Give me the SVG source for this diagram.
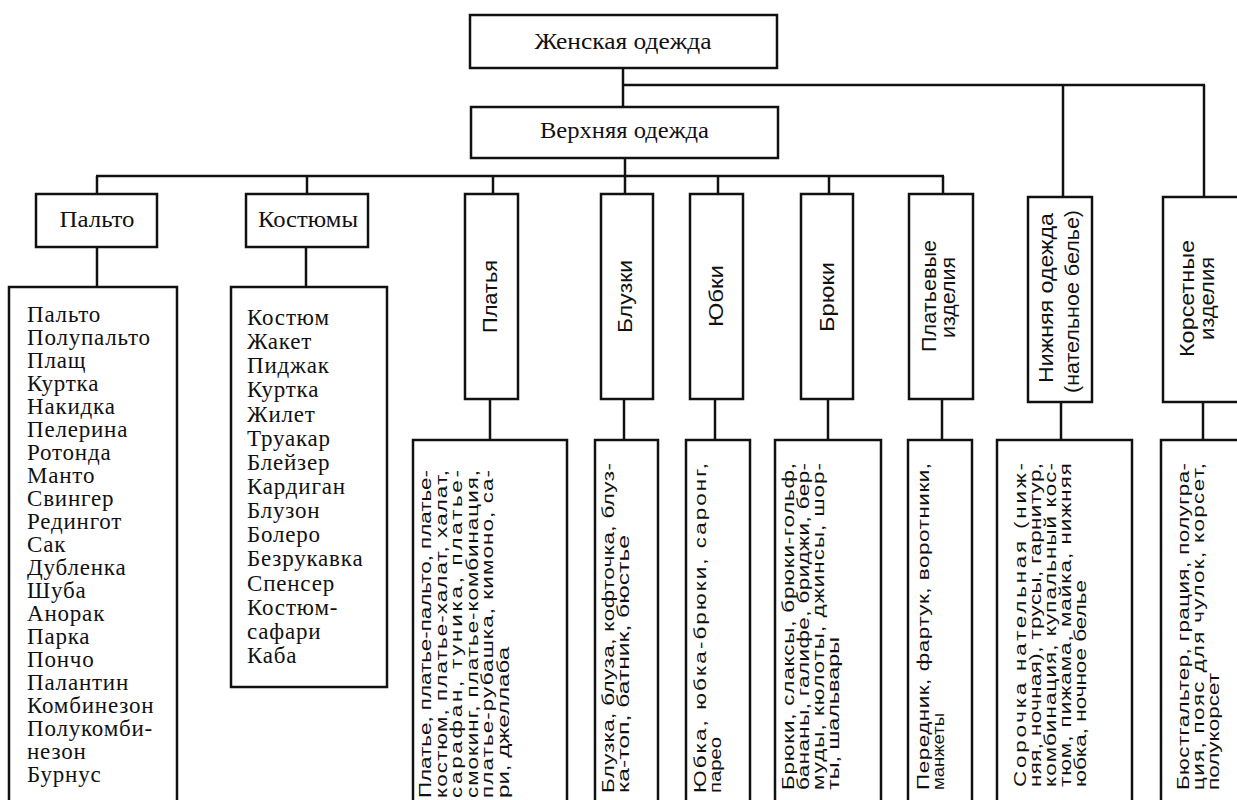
<svg xmlns="http://www.w3.org/2000/svg" width="1237" height="800" viewBox="0 0 1237 800">
<style>
.box{fill:#fff;stroke:#111;stroke-width:2.5}
.ln{stroke:#111;stroke-width:2.5;fill:none}
.serif{font-family:"Liberation Serif","Times New Roman",serif;font-size:23px;fill:#111;letter-spacing:0.8px}
.lbl{font-family:"Liberation Serif","Times New Roman",serif;font-size:23px;fill:#111;text-anchor:middle}
.vl{font-family:"Liberation Sans",Arial,sans-serif;font-size:20px;fill:#111;text-anchor:middle}
.vt{font-family:"Liberation Sans",Arial,sans-serif;font-size:16px;fill:#111}
</style>
<rect x="0" y="0" width="1237" height="800" fill="#fff"/>
<g id="connectors">
<line class="ln" x1="623" y1="68" x2="623" y2="107"/>
<line class="ln" x1="622" y1="85" x2="1205" y2="85"/>
<line class="ln" x1="1063" y1="85" x2="1063" y2="197"/>
<line class="ln" x1="1204" y1="85" x2="1204" y2="197"/>
<line class="ln" x1="625" y1="158" x2="625" y2="194"/>
<line class="ln" x1="96" y1="176" x2="944" y2="176"/>
<line class="ln" x1="97" y1="176" x2="97" y2="194"/>
<line class="ln" x1="307" y1="176" x2="307" y2="194"/>
<line class="ln" x1="493" y1="176" x2="493" y2="194"/>
<line class="ln" x1="718" y1="176" x2="718" y2="194"/>
<line class="ln" x1="829" y1="176" x2="829" y2="194"/>
<line class="ln" x1="943" y1="176" x2="943" y2="194"/>
<line class="ln" x1="97" y1="247" x2="97" y2="287"/>
<line class="ln" x1="306" y1="247" x2="306" y2="287"/>
<line class="ln" x1="490" y1="399" x2="490" y2="440"/>
<line class="ln" x1="624" y1="399" x2="624" y2="440"/>
<line class="ln" x1="715" y1="399" x2="715" y2="440"/>
<line class="ln" x1="828" y1="399" x2="828" y2="440"/>
<line class="ln" x1="942" y1="399" x2="942" y2="440"/>
<line class="ln" x1="1061" y1="402" x2="1061" y2="440"/>
<line class="ln" x1="1203" y1="402" x2="1203" y2="440"/>
</g>
<g id="n-zhenskaya">
<rect class="box" x="470" y="15" width="307" height="53"/>
<text class="lbl" x="623" y="49" textLength="177" lengthAdjust="spacingAndGlyphs">Женская одежда</text>
</g>
<g id="n-verkhnyaya">
<rect class="box" x="471" y="107" width="307" height="51"/>
<text class="lbl" x="624.5" y="138" textLength="169" lengthAdjust="spacingAndGlyphs">Верхняя одежда</text>
</g>
<g id="n-palto">
<rect class="box" x="36" y="194" width="121" height="53"/>
<text class="lbl" x="97" y="227" textLength="75" lengthAdjust="spacingAndGlyphs">Пальто</text>
</g>
<g id="n-kostyumy">
<rect class="box" x="246" y="194" width="122" height="53"/>
<text class="lbl" x="308" y="227" textLength="100" lengthAdjust="spacingAndGlyphs">Костюмы</text>
</g>
<g id="n-platya">
<rect class="box" x="465" y="194" width="53" height="205"/>
<text class="vl" transform="translate(497,296.5) rotate(-90)" textLength="73" lengthAdjust="spacingAndGlyphs">Платья</text>
</g>
<g id="n-bluzki">
<rect class="box" x="601" y="194" width="52" height="205"/>
<text class="vl" transform="translate(632,296.5) rotate(-90)" textLength="73" lengthAdjust="spacingAndGlyphs">Блузки</text>
</g>
<g id="n-yubki">
<rect class="box" x="690" y="194" width="53" height="205"/>
<text class="vl" transform="translate(723,296) rotate(-90)" textLength="62" lengthAdjust="spacingAndGlyphs">Юбки</text>
</g>
<g id="n-bryuki">
<rect class="box" x="801" y="194" width="52" height="205"/>
<text class="vl" transform="translate(834,297) rotate(-90)" textLength="70" lengthAdjust="spacingAndGlyphs">Брюки</text>
</g>
<g id="n-platevye">
<rect class="box" x="909" y="194" width="64" height="205"/>
<text class="vl" transform="translate(936,296) rotate(-90)" textLength="112" lengthAdjust="spacingAndGlyphs">Платьевые</text>
<text class="vl" transform="translate(955,297.5) rotate(-90)" textLength="81" lengthAdjust="spacingAndGlyphs">изделия</text>
</g>
<g id="n-nizhnyaya">
<rect class="box" x="1028" y="197" width="64" height="205"/>
<text class="vl" transform="translate(1053,298) rotate(-90)" textLength="170" lengthAdjust="spacingAndGlyphs">Нижняя одежда</text>
<text class="vl" transform="translate(1079,301.5) rotate(-90)" textLength="183" lengthAdjust="spacingAndGlyphs">(нательное белье)</text>
</g>
<g id="n-korsetnye">
<rect class="box" x="1163" y="197" width="82" height="205"/>
<text class="vl" transform="translate(1194,298.5) rotate(-90)" textLength="117" lengthAdjust="spacingAndGlyphs">Корсетные</text>
<text class="vl" transform="translate(1214,298.5) rotate(-90)" textLength="83" lengthAdjust="spacingAndGlyphs">изделия</text>
</g>
<g id="list-palto">
<rect class="box" x="9" y="287" width="168" height="530"/>
<text class="serif" x="27" y="322">Пальто</text>
<text class="serif" x="27" y="345">Полупальто</text>
<text class="serif" x="27" y="368">Плащ</text>
<text class="serif" x="27" y="391">Куртка</text>
<text class="serif" x="27" y="414">Накидка</text>
<text class="serif" x="27" y="437">Пелерина</text>
<text class="serif" x="27" y="460">Ротонда</text>
<text class="serif" x="27" y="483">Манто</text>
<text class="serif" x="27" y="506">Свингер</text>
<text class="serif" x="27" y="529">Редингот</text>
<text class="serif" x="27" y="552">Сак</text>
<text class="serif" x="27" y="575">Дубленка</text>
<text class="serif" x="27" y="598">Шуба</text>
<text class="serif" x="27" y="621">Анорак</text>
<text class="serif" x="27" y="644">Парка</text>
<text class="serif" x="27" y="667">Пончо</text>
<text class="serif" x="27" y="690">Палантин</text>
<text class="serif" x="27" y="713">Комбинезон</text>
<text class="serif" x="27" y="736">Полукомби-</text>
<text class="serif" x="27" y="759">незон</text>
<text class="serif" x="27" y="782">Бурнус</text>
</g>
<g id="list-kostyumy">
<rect class="box" x="231" y="287" width="156" height="400"/>
<text class="serif" x="247" y="325">Костюм</text>
<text class="serif" x="247" y="349">Жакет</text>
<text class="serif" x="247" y="373">Пиджак</text>
<text class="serif" x="247" y="397">Куртка</text>
<text class="serif" x="247" y="422">Жилет</text>
<text class="serif" x="247" y="446">Труакар</text>
<text class="serif" x="247" y="470">Блейзер</text>
<text class="serif" x="247" y="494">Кардиган</text>
<text class="serif" x="247" y="518">Блузон</text>
<text class="serif" x="247" y="542">Болеро</text>
<text class="serif" x="247" y="566">Безрукавка</text>
<text class="serif" x="247" y="591">Спенсер</text>
<text class="serif" x="247" y="615">Костюм-</text>
<text class="serif" x="247" y="639">сафари</text>
<text class="serif" x="247" y="663">Каба</text>
</g>
<g id="list-platya">
<rect class="box" x="413" y="440" width="154" height="380"/>
<text class="vt" transform="translate(431,798) rotate(-90) scale(1.4,1)" textLength="234.3" lengthAdjust="spacing">Платье, платье-пальто, платье-</text>
<text class="vt" transform="translate(446.5,798) rotate(-90) scale(1.4,1)" textLength="234.3" lengthAdjust="spacing">костюм, платье-халат, халат,</text>
<text class="vt" transform="translate(462,798) rotate(-90) scale(1.4,1)" textLength="234.3" lengthAdjust="spacing">сарафан, туника, платье-</text>
<text class="vt" transform="translate(477.5,798) rotate(-90) scale(1.4,1)" textLength="234.3" lengthAdjust="spacing">смокинг, платье-комбинация,</text>
<text class="vt" transform="translate(493,798) rotate(-90) scale(1.4,1)" textLength="234.3" lengthAdjust="spacing">платье-рубашка, кимоно, са-</text>
<text class="vt" transform="translate(508.5,798) rotate(-90) scale(1.4,1)" textLength="107.9" lengthAdjust="spacingAndGlyphs">ри, джеллаба</text>
</g>
<g id="list-bluzki">
<rect class="box" x="595" y="440" width="63" height="380"/>
<text class="vt" transform="translate(614,793) rotate(-90) scale(1.4,1)" textLength="235.7" lengthAdjust="spacing">Блузка, блуза, кофточка, блуз-</text>
<text class="vt" transform="translate(629,793) rotate(-90) scale(1.4,1)" textLength="184.3" lengthAdjust="spacingAndGlyphs">ка-топ, батник, бюстье</text>
</g>
<g id="list-yubki">
<rect class="box" x="686" y="440" width="64" height="380"/>
<text class="vt" transform="translate(706,793) rotate(-90) scale(1.4,1)" textLength="235.7" lengthAdjust="spacing">Юбка, юбка-брюки, саронг,</text>
<text class="vt" transform="translate(721,793) rotate(-90) scale(1.4,1)" textLength="40" lengthAdjust="spacingAndGlyphs">парео</text>
</g>
<g id="list-bryuki">
<rect class="box" x="775" y="440" width="106" height="380"/>
<text class="vt" transform="translate(794,790) rotate(-90) scale(1.4,1)" textLength="233.6" lengthAdjust="spacing">Брюки, слаксы, брюки-гольф,</text>
<text class="vt" transform="translate(809,790) rotate(-90) scale(1.4,1)" textLength="233.6" lengthAdjust="spacing">бананы, галифе, бриджи, бер-</text>
<text class="vt" transform="translate(824,790) rotate(-90) scale(1.4,1)" textLength="233.6" lengthAdjust="spacing">муды, кюлоты, джинсы, шор-</text>
<text class="vt" transform="translate(839,790) rotate(-90) scale(1.4,1)" textLength="109.3" lengthAdjust="spacingAndGlyphs">ты, шальвары</text>
</g>
<g id="list-platevye">
<rect class="box" x="908" y="440" width="64" height="380"/>
<text class="vt" transform="translate(929,790) rotate(-90) scale(1.4,1)" textLength="233.6" lengthAdjust="spacing">Передник, фартук, воротники,</text>
<text class="vt" transform="translate(944,790) rotate(-90) scale(1.4,1)" textLength="55" lengthAdjust="spacingAndGlyphs">манжеты</text>
</g>
<g id="list-nizhnyaya">
<rect class="box" x="997" y="440" width="135" height="380"/>
<text class="vt" transform="translate(1026,787) rotate(-90) scale(1.4,1)" textLength="231.4" lengthAdjust="spacing">Сорочка нательная (ниж-</text>
<text class="vt" transform="translate(1041,787) rotate(-90) scale(1.4,1)" textLength="231.4" lengthAdjust="spacing">няя, ночная), трусы, гарнитур,</text>
<text class="vt" transform="translate(1056,787) rotate(-90) scale(1.4,1)" textLength="231.4" lengthAdjust="spacing">комбинация, купальный кос-</text>
<text class="vt" transform="translate(1071,787) rotate(-90) scale(1.4,1)" textLength="231.4" lengthAdjust="spacing">тюм, пижама, майка, нижняя</text>
<text class="vt" transform="translate(1086,787) rotate(-90) scale(1.4,1)" textLength="147.9" lengthAdjust="spacingAndGlyphs">юбка, ночное белье</text>
</g>
<g id="list-korsetnye">
<rect class="box" x="1161" y="440" width="90" height="380"/>
<text class="vt" transform="translate(1189,790) rotate(-90) scale(1.4,1)" textLength="233.6" lengthAdjust="spacing">Бюстгальтер, грация, полугра-</text>
<text class="vt" transform="translate(1204,790) rotate(-90) scale(1.4,1)" textLength="233.6" lengthAdjust="spacing">ция, пояс для чулок, корсет,</text>
<text class="vt" transform="translate(1219,790) rotate(-90) scale(1.4,1)" textLength="83.6" lengthAdjust="spacingAndGlyphs">полукорсет</text>
</g>
</svg>
